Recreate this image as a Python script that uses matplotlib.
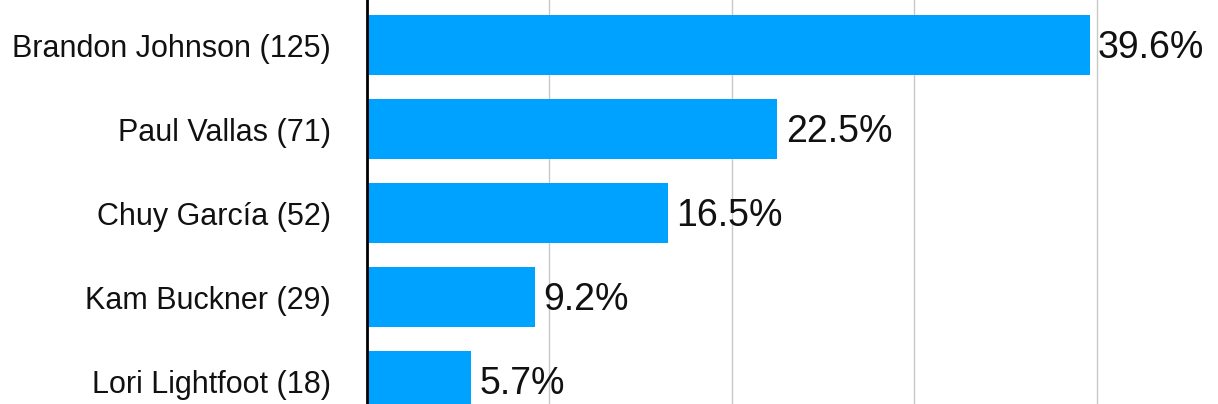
import matplotlib
matplotlib.use("Agg")
import matplotlib.pyplot as plt

candidates = ["Brandon Johnson", "Paul Vallas", "Chuy García", "Kam Buckner", "Lori Lightfoot"]
votes = [125, 71, 52, 29, 18]
percents = [39.6, 22.5, 16.5, 9.2, 5.7]
grid_ticks = [10, 20, 30, 40]

plt.rcParams['font.family'] = ['Liberation Sans', 'DejaVu Sans']

fig = plt.figure(figsize=(12.18, 4.04), dpi=100)
ax = fig.add_axes([366.8 / 1218, 0, 1 - 366.8 / 1218, 1])

ypos = list(range(len(candidates)))
ax.barh(ypos, percents, height=60 / 84, color='#00a2ff', zorder=2)

ax.set_xlim(0, (1218 - 366.8) / 18.25)
ax.set_ylim((404 - 45) / 84, -45 / 84)

ax.set_xticks(grid_ticks)
ax.tick_params(axis='x', length=0, labelbottom=False)
ax.grid(axis='x', color='#c8c8c8', linewidth=1.0, zorder=0)

ax.set_yticks(ypos)
ax.set_yticklabels([f"{c} ({v})" for c, v in zip(candidates, votes)], fontsize=22, color='#111111')
ax.tick_params(axis='y', length=0, pad=26)

for s in ['top', 'right', 'bottom']:
    ax.spines[s].set_visible(False)
ax.spines['left'].set_linewidth(2)
ax.spines['left'].set_color('black')
ax.spines['left'].set_zorder(3)

for y, p in zip(ypos, percents):
    ax.annotate(f"{p}%", xy=(p, y), xytext=(6, -2.5), textcoords='offset points',
                va='center', ha='left', fontsize=27, color='#111111')

fig.savefig("out.png", dpi=100)
